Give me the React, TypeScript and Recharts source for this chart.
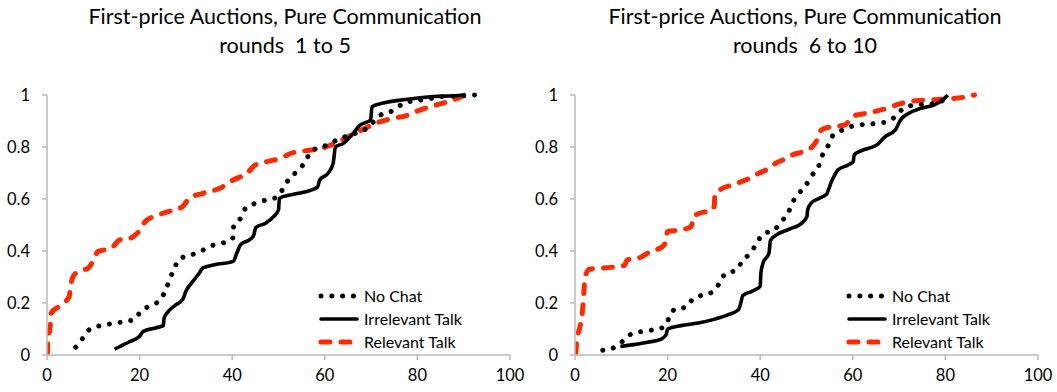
import React from "react";
import { LineChart, Line, XAxis, YAxis } from "recharts";

type Pt = [number, number];

// bid level (x) vs cumulative share (y), rounds 1 to 5
const noChatEarly: Pt[] = [
  [6.2, 0.03], [7.7, 0.064], [9.1, 0.097], [11.5, 0.113], [13.9, 0.12], [16.5, 0.128], [19, 0.138],
  [20.3, 0.17], [22.5, 0.19], [24.6, 0.215], [25.7, 0.254], [26.6, 0.296], [27.6, 0.337], [28.5, 0.369],
  [30.9, 0.383], [33.3, 0.4], [35.5, 0.42], [38, 0.431], [40.1, 0.448], [40.3, 0.493], [41.9, 0.528],
  [42.9, 0.565], [45.1, 0.584], [47.5, 0.597], [49.9, 0.609], [51.2, 0.648], [52.5, 0.682], [54.4, 0.712],
  [56, 0.75], [57, 0.785], [59.3, 0.798], [61.4, 0.817], [63.9, 0.836], [66.2, 0.85], [68.6, 0.866],
  [70.2, 0.891], [72.3, 0.926], [74.8, 0.94], [77.2, 0.97], [80.5, 0.98], [83, 0.987], [85.6, 0.994],
  [88.5, 0.996], [91, 0.999], [93.5, 1],
];
const irrelevantEarly: Pt[] = [
  [14.6, 0.023], [17.6, 0.049], [20, 0.072], [20.8, 0.091], [23.4, 0.104], [25.1, 0.113], [25.3, 0.142],
  [26.1, 0.165], [27.8, 0.193], [29.3, 0.213], [30, 0.245], [31.5, 0.283], [32.9, 0.315], [33.6, 0.334],
  [36.2, 0.347], [40.2, 0.36], [41, 0.392], [41.8, 0.424], [43.7, 0.443], [44.6, 0.458], [45.1, 0.49],
  [47.2, 0.507], [49, 0.533], [50, 0.558], [50.2, 0.603], [52.7, 0.616], [55.6, 0.627], [58.4, 0.645],
  [58.9, 0.673], [60.7, 0.699], [61.8, 0.737], [62.3, 0.8], [64, 0.814], [65.8, 0.846], [67.7, 0.885],
  [69.9, 0.904], [70.2, 0.955], [72.4, 0.968], [77.5, 0.983], [83.4, 0.994], [87.8, 0.997], [90.3, 1],
];
const relevantEarly: Pt[] = [
  [0.1, 0.008], [0.2, 0.059], [0.7, 0.11], [0.9, 0.161], [2.6, 0.187], [4.8, 0.225], [5.1, 0.264],
  [5.5, 0.296], [6.7, 0.321], [8.9, 0.334], [9.9, 0.36], [11, 0.398], [13.9, 0.411], [15.7, 0.443],
  [17.6, 0.447], [19.8, 0.475], [21.2, 0.513], [24.1, 0.539], [27.4, 0.558], [29.3, 0.571], [30.7, 0.603],
  [33.7, 0.622], [37.3, 0.641], [40.2, 0.673], [43.2, 0.699], [45, 0.731], [47.5, 0.744], [50.5, 0.757],
  [52.7, 0.776], [55.6, 0.785], [59.3, 0.795], [62.2, 0.814], [65.1, 0.84], [68, 0.866], [71, 0.891],
  [74.6, 0.91], [77.5, 0.92], [80.5, 0.942], [84.1, 0.962], [87.8, 0.981], [90.3, 1],
];

// rounds 6 to 10
const noChatLate: Pt[] = [
  [6, 0.018], [8.5, 0.029], [10.1, 0.05], [11.8, 0.077], [14.3, 0.09], [16.9, 0.097], [19.3, 0.108],
  [20.3, 0.142], [21.6, 0.177], [24, 0.184], [25.5, 0.216], [27.8, 0.232], [30.1, 0.246], [31.3, 0.28],
  [32.6, 0.315], [34.9, 0.326], [36.1, 0.362], [37.9, 0.392], [39.2, 0.428], [40.6, 0.466], [43, 0.48],
  [44.4, 0.511], [46, 0.545], [46.9, 0.584], [48.4, 0.622], [49.9, 0.654], [51.1, 0.689], [52.6, 0.725],
  [53.3, 0.763], [54.6, 0.802], [55.5, 0.84], [57.5, 0.863], [60.1, 0.881], [62.6, 0.887], [65, 0.891],
  [67.5, 0.898], [69.6, 0.924], [71, 0.95], [73.6, 0.962], [75.8, 0.965], [78.3, 0.967], [80.3, 1],
];
const irrelevantLate: Pt[] = [
  [9.8, 0.033], [12.7, 0.04], [15.7, 0.049], [18.6, 0.061], [19.7, 0.078], [20, 0.1], [22.9, 0.113],
  [26.6, 0.123], [30.2, 0.138], [33.1, 0.155], [35.3, 0.174], [35.9, 0.206], [36.2, 0.228], [38.2, 0.245],
  [40, 0.264], [40.15, 0.315], [40.6, 0.353], [41.9, 0.392], [42.2, 0.44], [43.5, 0.462], [46.3, 0.484],
  [49.2, 0.511], [50.1, 0.533], [50.25, 0.558], [51, 0.584], [52.8, 0.603], [54.3, 0.618], [55.4, 0.667],
  [56.8, 0.712], [59, 0.731], [60.1, 0.744], [60.3, 0.77], [61.9, 0.786], [65.2, 0.808], [67, 0.84],
  [69.2, 0.866], [70.3, 0.904], [72.1, 0.93], [74.7, 0.949], [77.6, 0.962], [79.4, 0.981], [80.5, 1],
];
const relevantLate: Pt[] = [
  [0.2, 0.008], [0.4, 0.059], [1.1, 0.11], [1.7, 0.187], [2, 0.264], [2.2, 0.302], [3.1, 0.33],
  [7.6, 0.337], [10.6, 0.344], [11.3, 0.366], [14.2, 0.376], [15.7, 0.392], [17.9, 0.407], [19.3, 0.424],
  [19.7, 0.456], [20, 0.475], [22.9, 0.481], [25.1, 0.494], [25.6, 0.533], [26.9, 0.545], [29.5, 0.558],
  [30.1, 0.574], [30.2, 0.616], [31.3, 0.635], [33.9, 0.654], [36.8, 0.673], [39.7, 0.699], [41.9, 0.718],
  [43.3, 0.737], [45.2, 0.753], [47, 0.77], [49.2, 0.782], [51.3, 0.802], [52.4, 0.834], [52.8, 0.858],
  [53.9, 0.872], [58.3, 0.885], [60.1, 0.919], [63, 0.93], [67.4, 0.949], [70.3, 0.967], [73.2, 0.977],
  [77.6, 0.982], [81.2, 0.986], [84.8, 0.994], [86.3, 1],
];

const xTicks = [0, 20, 40, 60, 80, 100];
const yTicks = [0, 0.2, 0.4, 0.6, 0.8, 1];
const seriesNames = ["No Chat", "Irrelevant Talk", "Relevant Talk"];

const FONT = "Lato, 'Open Sans', sans-serif";
const RED = "#ff2a00";
const AXIS = "#b8b8b8";

const dotted = { stroke: "#000", strokeWidth: 5, strokeDasharray: "0.01 10.8", strokeLinecap: "round" as const };
const solid = { stroke: "#000", strokeWidth: 3.6 };
const dashed = { stroke: RED, strokeWidth: 5, strokeDasharray: "9 11", strokeLinecap: "round" as const };
const styles = [dotted, solid, dashed];

const toRows = (pts: Pt[]) => pts.map(([x, y]) => ({ x, y }));

function LegendBox({ left }: { left: number }) {
  return (
    <div style={{ position: "absolute", left, top: 284, fontFamily: FONT, fontSize: 16 }}>
      {seriesNames.map((name, i) => (
        <div key={name} style={{ display: "flex", alignItems: "center", height: 23 }}>
          <svg width={43} height={10}>
            <line x1={3} y1={5} x2={39} y2={5} {...styles[i]} strokeLinecap="round" />
          </svg>
          <span style={{ marginLeft: 3 }}>{name}</span>
        </div>
      ))}
    </div>
  );
}

function Panel({
  title,
  sub,
  titleX,
  noChat,
  irrelevant,
  relevant,
}: {
  title: string;
  sub: string;
  titleX: number;
  noChat: Pt[];
  irrelevant: Pt[];
  relevant: Pt[];
}) {
  const tick = { fill: "#000", fontSize: 16.5, fontFamily: FONT };
  return (
    <div style={{ position: "relative", width: 528, height: 392 }}>
      <div
        style={{
          position: "absolute",
          left: titleX - 250,
          width: 500,
          top: 2,
          textAlign: "center",
          fontFamily: FONT,
          fontSize: 21.5,
          lineHeight: "29px",
          color: "#000",
          whiteSpace: "pre",
        }}
      >
        <div>{title}</div>
        <div>{sub}</div>
      </div>
      <LineChart width={528} height={392} margin={{ top: 95, right: 18, bottom: 0, left: 0 }}>
        <XAxis
          type="number"
          dataKey="x"
          domain={[0, 100]}
          ticks={xTicks}
          height={37}
          tickSize={5}
          tickMargin={9}
          tick={tick}
          stroke={AXIS}
          axisLine={{ stroke: AXIS, strokeWidth: 1.5 }}
          tickLine={{ stroke: AXIS, strokeWidth: 1.5 }}
          allowDataOverflow
        />
        <YAxis
          type="number"
          dataKey="y"
          domain={[0, 1]}
          ticks={yTicks}
          width={47}
          tickSize={5}
          tickMargin={12}
          tick={tick}
          axisLine={{ stroke: AXIS, strokeWidth: 1.5 }}
          tickLine={{ stroke: AXIS, strokeWidth: 1.5 }}
        />
        <Line data={toRows(relevant)} dataKey="y" type="monotone" dot={false} isAnimationActive={false} {...dashed} />
        <Line data={toRows(irrelevant)} dataKey="y" type="monotone" dot={false} isAnimationActive={false} {...solid} />
        <Line data={toRows(noChat)} dataKey="y" type="monotone" dot={false} isAnimationActive={false} {...dotted} />
      </LineChart>
      <LegendBox left={318} />
    </div>
  );
}

export default function App() {
  return (
    <div style={{ position: "absolute", left: 0, top: 0, width: 1057, height: 392, display: "flex", background: "#fff" }}>
      <Panel
        title="First-price Auctions, Pure Communication"
        sub="rounds  1 to 5"
        titleX={285}
        noChat={noChatEarly}
        irrelevant={irrelevantEarly}
        relevant={relevantEarly}
      />
      <Panel
        title="First-price Auctions, Pure Communication"
        sub="rounds  6 to 10"
        titleX={277}
        noChat={noChatLate}
        irrelevant={irrelevantLate}
        relevant={relevantLate}
      />
    </div>
  );
}
